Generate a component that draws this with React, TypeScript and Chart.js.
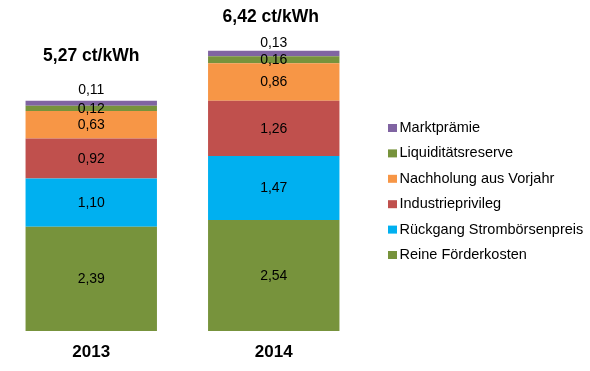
import React, { useEffect, useRef } from "react";
import { Chart, registerables } from "chart.js";

Chart.register(...registerables);

// ---- data ----
const categories = ["2013", "2014"];
const seriesNames = [
  "Reine Förderkosten",
  "Rückgang Strombörsenpreis",
  "Industrieprivileg",
  "Nachholung aus Vorjahr",
  "Liquiditätsreserve",
  "Marktprämie",
];
const reineFoerderkosten = [2.39, 2.54];
const rueckgangStromboersenpreis = [1.1, 1.47];
const industrieprivileg = [0.92, 1.26];
const nachholungAusVorjahr = [0.63, 0.86];
const liquiditaetsreserve = [0.12, 0.16];
const marktpraemie = [0.11, 0.13];
const unit = "ct/kWh";

const seriesValues = [
  reineFoerderkosten,
  rueckgangStromboersenpreis,
  industrieprivileg,
  nachholungAusVorjahr,
  liquiditaetsreserve,
  marktpraemie,
];
const seriesColors = ["#77933C", "#00B0F0", "#C0504D", "#F79646", "#77933C", "#8064A2"];

const FONT = '"Liberation Sans", Arial, Helvetica, sans-serif';
const fmt = (v: number) => v.toFixed(2).replace(".", ",");

const stackLabelsPlugin = {
  id: "stackLabels",
  afterDatasetsDraw(chart: any, _args: any, opts: any) {
    const ctx = chart.ctx as CanvasRenderingContext2D;
    const datasets = chart.data.datasets;
    const n = datasets.length;
    ctx.save();
    ctx.textAlign = "center";
    ctx.textBaseline = "middle";
    ctx.fillStyle = "#000";

    // segment value labels
    ctx.font = `14px ${FONT}`;
    datasets.forEach((ds: any, i: number) => {
      const meta = chart.getDatasetMeta(i);
      meta.data.forEach((bar: any, j: number) => {
        const { x, y, base } = bar.getProps(["x", "y", "base"], true);
        let cy = (y + base) / 2;
        if (i === n - 1) cy = y - opts.topLabelOffsets[j];
        ctx.fillText(fmt(ds.data[j] as number), x, cy + 0.5);
      });
    });

    // totals
    ctx.font = `bold 17.5px ${FONT}`;
    const lastMeta = chart.getDatasetMeta(n - 1);
    lastMeta.data.forEach((bar: any, j: number) => {
      let total = 0;
      datasets.forEach((ds: any) => (total += ds.data[j] as number));
      ctx.fillText(`${fmt(total)} ${unit}`, bar.x + opts.totalDx[j], bar.y - opts.totalOffsets[j]);
    });

    // legend (reverse order)
    ctx.font = `14.5px ${FONT}`;
    ctx.textAlign = "left";
    const lg = opts.legend;
    for (let k = 0; k < n; k++) {
      const i = n - 1 - k;
      const ds = datasets[i];
      const cy = lg.y0 + k * lg.step;
      ctx.fillStyle = ds.backgroundColor as string;
      ctx.fillRect(lg.x, cy - lg.boxH / 2 + 0.5, lg.boxW, lg.boxH);
      ctx.fillStyle = "#000";
      ctx.fillText(ds.label, lg.x + lg.boxW + lg.gap, cy + 0.5);
    }
    ctx.restore();
  },
};

export default function App() {
  const canvasRef = useRef<HTMLCanvasElement | null>(null);

  useEffect(() => {
    if (!canvasRef.current) return;
    const chart = new Chart(canvasRef.current, {
      type: "bar",
      data: {
        labels: categories,
        datasets: seriesNames.map((name, i) => ({
          label: name,
          data: seriesValues[i],
          backgroundColor: seriesColors[i],
          borderWidth: 0,
          barPercentage: 0.72,
          categoryPercentage: 1,
        })),
      },
      options: {
        responsive: false,
        animation: false,
        layout: { padding: { left: 0, right: 225, top: 0, bottom: -2.4 } },
        plugins: {
          legend: { display: false },
          tooltip: { enabled: false },
          stackLabels: {
            topLabelOffsets: [11, 8],
            totalOffsets: [45, 33.5],
            totalDx: [0, -3],
            legend: { x: 388, y0: 127.5, step: 25.4, boxW: 9, boxH: 8, gap: 2.5 },
          },
        } as any,
        scales: {
          x: {
            stacked: true,
            grid: { display: false, drawTicks: false },
            border: { display: false },
            ticks: {
              color: "#000",
              padding: 11,
              font: { family: FONT, size: 17, weight: "bold" },
            },
          },
          y: { stacked: true, display: false, min: 0, max: 7.58 },
        },
      },
      plugins: [stackLabelsPlugin],
    });
    return () => chart.destroy();
  }, []);

  return (
    <div style={{ position: "fixed", left: 0, top: 0, width: 590, height: 371, background: "#fff" }}>
      <canvas ref={canvasRef} width={590} height={371} style={{ display: "block" }} />
    </div>
  );
}
